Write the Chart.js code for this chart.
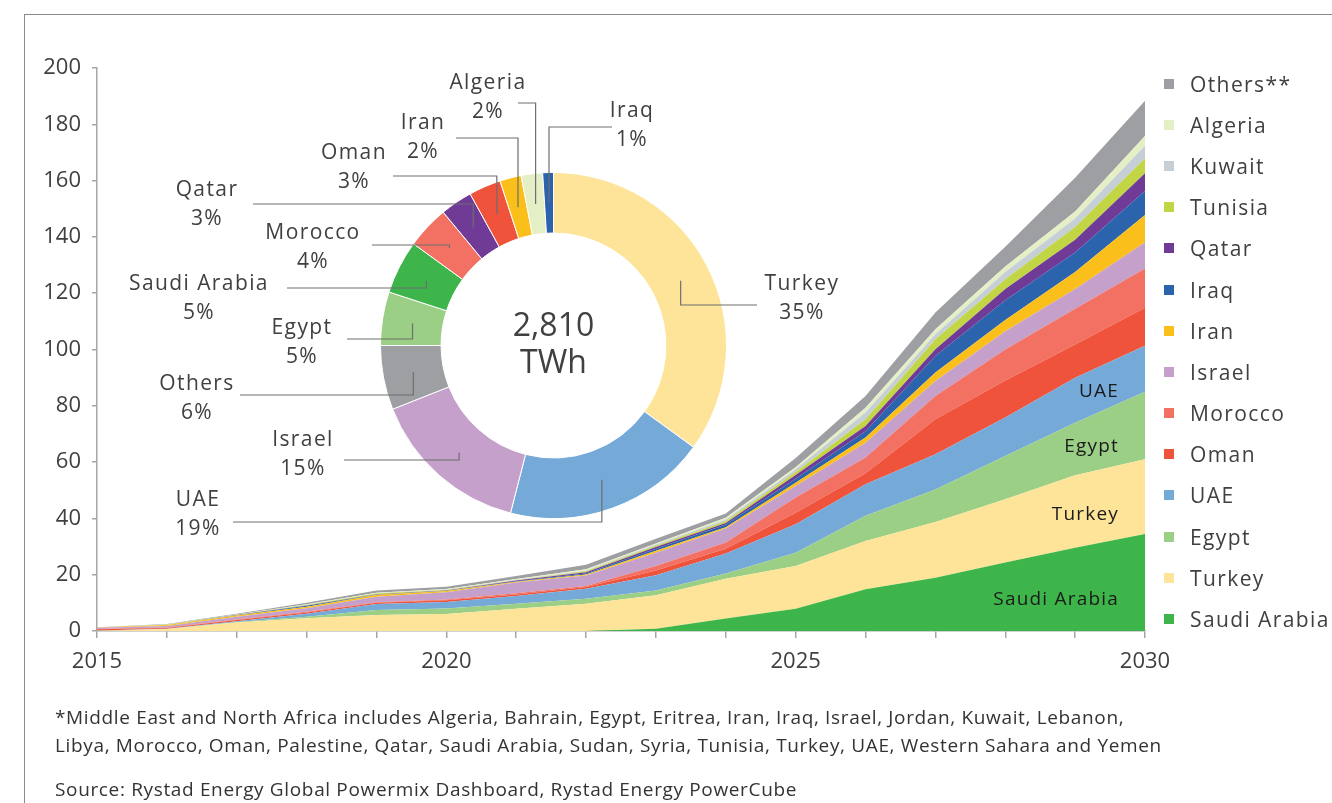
<!DOCTYPE html>
<html>
<head>
<meta charset="utf-8">
<script src="https://cdn.jsdelivr.net/npm/chart.js@4.4.0/dist/chart.umd.min.js"></script>
<style>
  body { margin: 0; width: 1332px; height: 803px; overflow: hidden; background: #fff;
         font-family: 'Open Sans', sans-serif; color: #404040; }
  #frame { position: absolute; left: 24px; top: 14px; width: 1320px; height: 800px;
           border-top: 1.5px solid #8a8a8a; border-left: 1.5px solid #8a8a8a; }
  canvas { position: absolute; left: 0; top: 0; }
  #legend { position: absolute; left: 1164px; top: 63px; }
  .item { height: 41.2px; display: flex; align-items: center; font-size: 21px;
          letter-spacing: 1.4px; white-space: nowrap; }
  .sw { width: 10px; height: 10px; margin-right: 16px; flex: none; }
  .note { position: absolute; left: 55px; font-size: 19px; letter-spacing: 0.65px;
          white-space: nowrap; color: #333; }
</style>
</head>
<body>
<div id="frame"></div>
<canvas id="areaChart" width="1332" height="803"></canvas>
<canvas id="donutChart" width="1332" height="803"></canvas>
<div id="legend"></div>
<div class="note" style="top:704px">*Middle East and North Africa includes Algeria, Bahrain, Egypt, Eritrea, Iran, Iraq, Israel, Jordan, Kuwait, Lebanon,</div>
<div class="note" style="top:732px">Libya, Morocco, Oman, Palestine, Qatar, Saudi Arabia, Sudan, Syria, Tunisia, Turkey, UAE, Western Sahara and Yemen</div>
<div class="note" style="top:776px">Source: Rystad Energy Global Powermix Dashboard, Rystad Energy PowerCube</div>

<script>
// years on the x axis
const years = [2015, 2016, 2017, 2018, 2019, 2020, 2021, 2022, 2023, 2024, 2025, 2026, 2027, 2028, 2029, 2030];

// series values (TWh), stacked bottom to top
const saudiArabia = [0, 0, 0, 0, 0, 0, 0, 0, 0.8, 4.4, 7.9, 14.8, 18.9, 24.3, 29.6, 34.5];
const turkey      = [0.1, 0.7, 3.0, 4.5, 5.7, 6.0, 7.9, 9.7, 11.9, 14.2, 15.2, 17.2, 19.8, 22.5, 25.7, 26.5];
const egypt       = [0, 0, 0.2, 0.6, 1.8, 2.0, 1.8, 1.8, 1.7, 1.8, 4.7, 8.9, 11.6, 15.4, 18.7, 24.0];
const uae         = [0.05, 0.1, 0.3, 1.0, 2.1, 2.3, 2.7, 3.5, 5.4, 7.1, 10.1, 11.2, 12.5, 13.6, 16.0, 16.3];
const oman        = [0.5, 0.3, 0.4, 0.5, 0.4, 0.6, 0.6, 0.6, 1.7, 1.7, 4.1, 3.9, 12.4, 13.2, 11.8, 13.5];
const morocco     = [0.1, 0.1, 0.2, 0.2, 0.2, 0.3, 0.4, 0.4, 1.6, 2.2, 5.4, 5.6, 8.3, 11.0, 12.7, 14.0];
const israel      = [0.4, 0.6, 1.0, 1.3, 2.0, 2.6, 3.8, 3.7, 4.7, 5.0, 4.1, 5.3, 5.3, 6.5, 7.0, 9.3];
const iran        = [0.05, 0.3, 0.4, 0.5, 0.6, 0.4, 0.3, 0.4, 0.7, 0.5, 1.2, 1.8, 3.0, 4.0, 6.0, 9.7];
const iraq        = [0, 0.05, 0.1, 0.4, 0.1, 0.1, 0.2, 0.3, 0.7, 0.9, 1.4, 2.3, 5.9, 7.0, 7.0, 8.5];
const qatar       = [0, 0, 0.05, 0.1, 0.1, 0.1, 0.2, 0.5, 0.6, 0.6, 1.3, 1.8, 2.4, 4.0, 4.5, 6.3];
const tunisia     = [0, 0.1, 0.1, 0.1, 0.3, 0.2, 0.1, 0.3, 0.5, 0.6, 1.1, 2.4, 3.5, 3.5, 4.5, 5.3];
const kuwait      = [0, 0, 0.05, 0.1, 0.1, 0.1, 0.2, 0.3, 0.4, 0.6, 1.0, 2.4, 1.8, 2.5, 3.0, 4.5];
const algeria     = [0, 0.1, 0.1, 0.2, 0.2, 0.2, 0.3, 0.4, 0.4, 0.6, 0.7, 1.7, 1.8, 2.0, 2.5, 3.4];
const others      = [0.1, 0.15, 0.2, 0.5, 0.8, 0.8, 1.0, 1.6, 1.7, 1.5, 3.3, 4.2, 5.9, 7.0, 12.0, 12.6];

const seriesNames  = ['Saudi Arabia', 'Turkey', 'Egypt', 'UAE', 'Oman', 'Morocco', 'Israel',
                      'Iran', 'Iraq', 'Qatar', 'Tunisia', 'Kuwait', 'Algeria', 'Others**'];
const seriesValues = [saudiArabia, turkey, egypt, uae, oman, morocco, israel,
                      iran, iraq, qatar, tunisia, kuwait, algeria, others];
const seriesColors = ['#3db54a', '#fde498', '#9ccf86', '#75a9d8', '#f0533b', '#f37163', '#c4a0ca',
                      '#fbbf1c', '#2b63ad', '#6f3b96', '#c2d545', '#c6ced6', '#e5efc5', '#9d9fa2'];

// y axis
const yMax = 200;
const yStep = 20;

// doughnut: share of 2,810 TWh
const donutLabels = ['Turkey', 'UAE', 'Israel', 'Others', 'Egypt', 'Saudi Arabia', 'Morocco',
                     'Qatar', 'Oman', 'Iran', 'Algeria', 'Iraq'];
const donutShares = [35, 19, 15, 6, 5, 5, 4, 3, 3, 2, 2, 1];
const donutTotal = '2,810';
const donutUnit = 'TWh';

// labels written inside the bottom bands
const bandLabels = ['Saudi Arabia', 'Turkey', 'Egypt', 'UAE'];

const FONT = "'Open Sans', sans-serif";
Chart.defaults.font.family = FONT;
Chart.defaults.color = '#404040';

function colorOf(name) {
    let i = seriesNames.findIndex(n => n.replace('**', '') === name);
    return seriesColors[i];
}

// legend, top of the stack first
let legend = document.getElementById('legend');
for (let i = seriesNames.length - 1; i >= 0; i--) {
    let row = document.createElement('div');
    row.className = 'item';
    row.innerHTML = '<span class="sw" style="background:' + seriesColors[i] + '"></span>' + seriesNames[i];
    legend.appendChild(row);
}

// text inside the bottom bands, placed at the right end
const bandTextPlugin = {
    id: 'bandText',
    afterDatasetsDraw(chart) {
        let ctx = chart.ctx;
        let xs = chart.scales.x, ys = chart.scales.y;
        let n = years.length;
        ctx.save();
        ctx.font = '19px ' + FONT;
        ctx.letterSpacing = '1.2px';
        ctx.fillStyle = '#1a1a1a';
        ctx.textAlign = 'right';
        ctx.textBaseline = 'middle';
        let below = [0, 0];
        bandLabels.forEach((name, k) => {
            let vals = seriesValues[k];
            let lo = (below[0] + below[1]) / 2;
            below = [below[0] + vals[n - 2], below[1] + vals[n - 1]];
            let hi = (below[0] + below[1]) / 2;
            let y = ys.getPixelForValue(lo + 0.35 * (hi - lo));
            ctx.fillText(name, xs.getPixelForValue(n - 1) - 26, y);
        });
        ctx.restore();
    }
};

new Chart(document.getElementById('areaChart'), {
    type: 'line',
    data: {
        labels: years.map(String),
        datasets: seriesValues.map((vals, i) => ({
            label: seriesNames[i],
            data: vals,
            backgroundColor: seriesColors[i],
            borderWidth: 0,
            pointRadius: 0,
            tension: 0,
            fill: i === 0 ? 'origin' : '-1'
        }))
    },
    options: {
        responsive: false,
        animation: false,
        layout: { padding: { top: 68, right: 187, left: 0, bottom: 0 } },
        plugins: { legend: { display: false }, tooltip: { enabled: false } },
        scales: {
            x: {
                grid: { drawOnChartArea: false, tickLength: 7, color: '#a6a6a6', lineWidth: 1.5 },
                border: { color: '#a6a6a6', width: 1.5 },
                ticks: {
                    autoSkip: false, maxRotation: 0, padding: 11,
                    font: { size: 22 }, color: '#404040',
                    callback: (v, i) => years[i] % 5 === 0 ? years[i] : ''
                },
                afterFit: (s) => { s.height = 803 - 631; }
            },
            y: {
                stacked: true,
                min: 0, max: yMax,
                grid: { drawOnChartArea: false, tickLength: 5, color: '#a6a6a6', lineWidth: 1.5 },
                border: { color: '#a6a6a6', width: 1.5 },
                ticks: { stepSize: yStep, padding: 11, font: { size: 22 }, color: '#404040' },
                afterFit: (s) => { s.width = 97; }
            }
        }
    },
    plugins: [bandTextPlugin]
});

// callout placement for each doughnut label: text centre and start of the leader line
const callouts = {
    'Turkey':       { tx: 802, ty: 284, lx: 757, ly: 305 },
    'UAE':          { tx: 198, ty: 500, lx: 233, ly: 522 },
    'Israel':       { tx: 303, ty: 440, lx: 344, ly: 460 },
    'Others':       { tx: 197, ty: 384, lx: 240, ly: 395 },
    'Egypt':        { tx: 302, ty: 328, lx: 347, ly: 339 },
    'Saudi Arabia': { tx: 199, ty: 284, lx: 287, ly: 288 },
    'Morocco':      { tx: 313, ty: 233, lx: 372, ly: 245 },
    'Qatar':        { tx: 207, ty: 190, lx: 253, ly: 204 },
    'Oman':         { tx: 354, ty: 153, lx: 393, ly: 176 },
    'Iran':         { tx: 423, ty: 123, lx: 456, ly: 138 },
    'Algeria':      { tx: 488, ty: 83,  lx: 518, ly: 103 },
    'Iraq':         { tx: 632, ty: 111, lx: 612, ly: 127 }
};

const calloutPlugin = {
    id: 'callouts',
    afterDraw(chart) {
        let ctx = chart.ctx;
        let arcs = chart.getDatasetMeta(0).data;
        ctx.save();
        ctx.strokeStyle = '#6e6e6e';
        ctx.lineWidth = 1.2;
        ctx.font = '21px ' + FONT;
        ctx.letterSpacing = '1.4px';
        ctx.fillStyle = '#404040';
        ctx.textAlign = 'center';
        ctx.textBaseline = 'middle';
        arcs.forEach((arc, i) => {
            let c = callouts[donutLabels[i]];
            let p = arc.tooltipPosition();
            ctx.beginPath();
            ctx.moveTo(c.lx, c.ly);
            ctx.lineTo(p.x, c.ly);
            ctx.lineTo(p.x, p.y);
            ctx.stroke();
            ctx.fillText(donutLabels[i], c.tx, c.ty);
            ctx.fillText(donutShares[i] + '%', c.tx, c.ty + 29);
        });
        let a = arcs[0];
        ctx.font = '32px ' + FONT;
        ctx.letterSpacing = '0px';
        ctx.fillText(donutTotal, a.x, a.y - 19);
        ctx.fillText(donutUnit, a.x, a.y + 18);
        ctx.restore();
    }
};

new Chart(document.getElementById('donutChart'), {
    type: 'doughnut',
    data: {
        labels: donutLabels,
        datasets: [{
            data: donutShares,
            backgroundColor: donutLabels.map(colorOf),
            borderColor: '#ffffff',
            borderWidth: 1
        }]
    },
    options: {
        responsive: false,
        animation: false,
        cutout: '65%',
        events: [],
        layout: { padding: { left: 380, right: 1332 - 727, top: 172, bottom: 803 - 519 } },
        plugins: { legend: { display: false }, tooltip: { enabled: false } }
    },
    plugins: [calloutPlugin]
});
</script>
</body>
</html>
